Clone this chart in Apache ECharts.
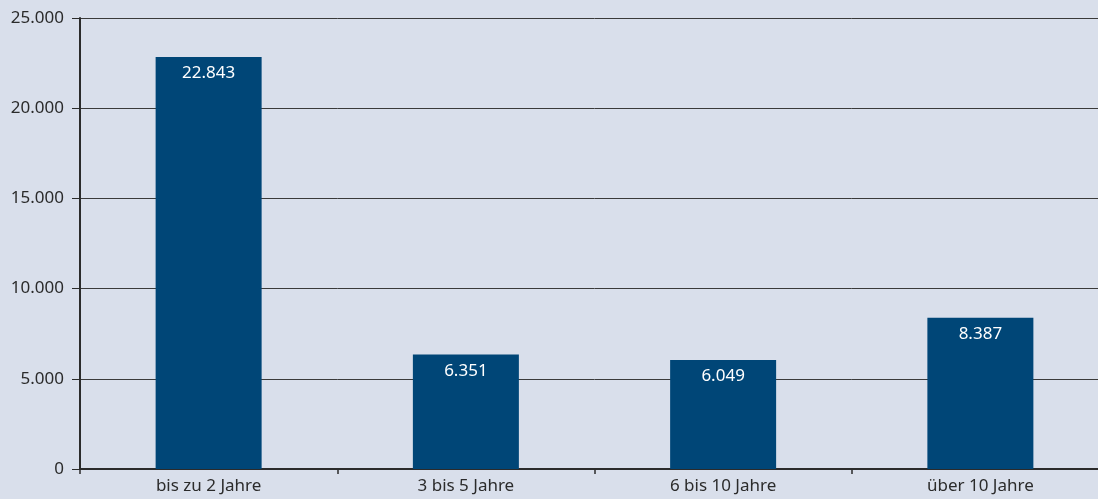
<!DOCTYPE html>
<html>
<head>
<meta charset="utf-8">
<script src="https://cdn.jsdelivr.net/npm/echarts@6/dist/echarts.min.js"></script>
<style>
  html, body { margin: 0; padding: 0; background: #d9dfeb; overflow: hidden; }
  /* the plot runs a little past the right edge of the visible page */
  #chart { width: 1110px; height: 499px; }
</style>
</head>
<body>
<div id="chart"></div>
<script>
// Anzahl nach Dauer (Kategorien und Werte)
const categories = ['bis zu 2 Jahre', '3 bis 5 Jahre', '6 bis 10 Jahre', 'über 10 Jahre'];
const values = [22843, 6351, 6049, 8387];
const yTicks = [0, 5000, 10000, 15000, 20000, 25000];

const fmt = v => v.toLocaleString('de-DE');
const font = '"Noto Sans", "Open Sans", sans-serif';

const chart = echarts.init(document.getElementById('chart'), null, { renderer: 'canvas' });
chart.setOption({
  backgroundColor: '#d9dfeb',
  animation: false,
  grid: { left: 80, right: 1, top: 18, bottom: 30, containLabel: false },
  xAxis: {
    type: 'category',
    data: categories,
    axisLine: { show: true, lineStyle: { color: '#2b2b2b', width: 2 } },
    axisTick: { show: true, length: 5, lineStyle: { color: '#2b2b2b', width: 1.5 } },
    axisLabel: { color: '#2b2b2b', fontSize: 17, fontFamily: font, margin: 9 }
  },
  yAxis: {
    type: 'value',
    min: yTicks[0],
    max: yTicks[yTicks.length - 1],
    interval: 5000,
    axisLine: { show: true, lineStyle: { color: '#2b2b2b', width: 2 } },
    axisTick: { show: true, length: 8, lineStyle: { color: '#2b2b2b', width: 1 } },
    axisLabel: { color: '#2b2b2b', fontSize: 17, fontFamily: font, margin: 16, formatter: fmt },
    splitLine: { show: true, lineStyle: { color: '#3a3a3a', width: 1 } }
  },
  series: [{
    type: 'bar',
    data: values,
    barWidth: 106,
    itemStyle: { color: '#004677' },
    label: {
      show: true,
      position: 'insideTop',
      distance: 8,
      color: '#ffffff',
      fontSize: 17,
      fontFamily: font,
      formatter: p => fmt(p.value)
    }
  }]
});
</script>
</body>
</html>
